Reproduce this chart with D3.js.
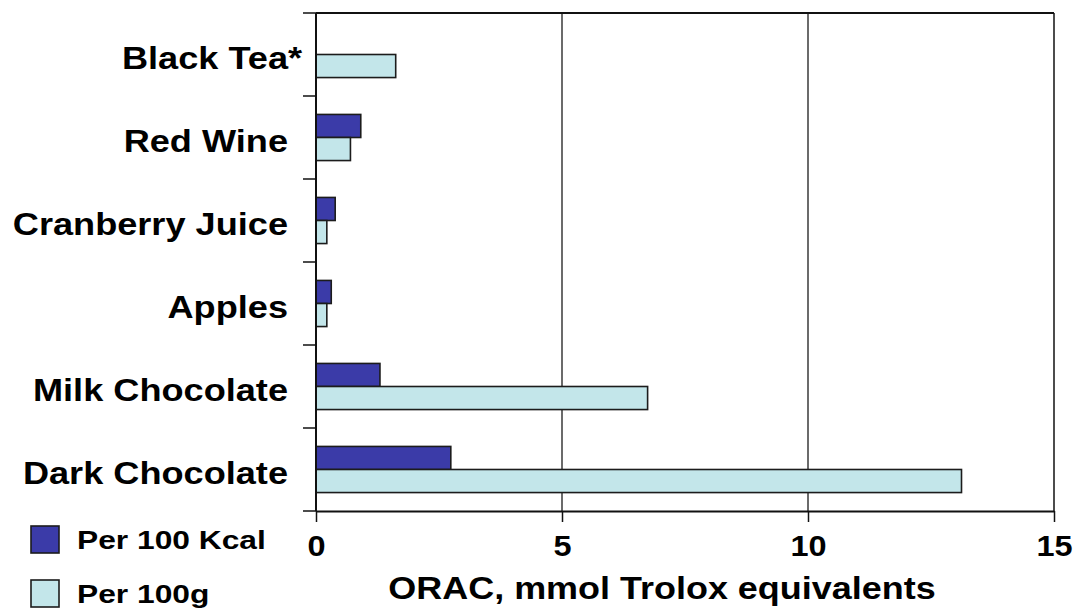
<!DOCTYPE html>
<html>
<head>
<meta charset="utf-8">
<script src="https://cdn.jsdelivr.net/npm/d3@7"></script>
<style>
  html, body { margin: 0; padding: 0; background: #ffffff; }
  svg { display: block; }
  text { font-family: "Liberation Sans", Arial, sans-serif; font-weight: bold; fill: #000; }
</style>
</head>
<body>
<svg id="chart" width="1076" height="612"></svg>
<script>
// ---- data ----
const categories = ["Black Tea*", "Red Wine", "Cranberry Juice", "Apples", "Milk Chocolate", "Dark Chocolate"];
const seriesNames = ["Per 100 Kcal", "Per 100g"];
const per100Kcal = [null, 0.91, 0.39, 0.31, 1.30, 2.74];
const per100g = [1.62, 0.70, 0.22, 0.22, 6.74, 13.12];
const xTicks = [0, 5, 10, 15];
const xTitle = "ORAC, mmol Trolox equivalents";
const seriesColors = ["#3b3ba8", "#c3e6ea"];

(function () {
// ---- layout ----
const svg = d3.select("#chart");
const pLeft = 316, pRight = 1054, pTop = 13, pBottom = 511;

const x = d3.scaleLinear().domain([0, 15]).range([pLeft, pRight]);
const y = d3.scaleBand().domain(categories).range([pTop, pBottom]).paddingInner(0).paddingOuter(0);
const ySub = d3.scaleBand().domain(seriesNames).range([0, y.bandwidth()]).paddingInner(0).paddingOuter(0.8);

const rows = categories.map((c, i) => ({
  cat: c,
  vals: [per100Kcal[i], per100g[i]]
}));

// gridlines
svg.append("g").selectAll("line")
  .data([5, 10]).join("line")
  .attr("x1", d => x(d)).attr("x2", d => x(d))
  .attr("y1", pTop).attr("y2", pBottom)
  .attr("stroke", "#3a3a3a").attr("stroke-width", 1.5);

// frame top and right
svg.append("line").attr("x1", pLeft).attr("x2", pRight).attr("y1", pTop).attr("y2", pTop)
  .attr("stroke", "#111").attr("stroke-width", 2);
svg.append("line").attr("x1", pRight).attr("x2", pRight).attr("y1", pTop).attr("y2", pBottom)
  .attr("stroke", "#111").attr("stroke-width", 1.5);

// bars
const groups = svg.append("g").selectAll("g")
  .data(rows).join("g")
  .attr("transform", d => `translate(0,${y(d.cat)})`);

groups.selectAll("rect")
  .data(d => d.vals.map((v, j) => ({ v, s: seriesNames[j], j })).filter(e => e.v != null))
  .join("rect")
  .attr("x", x(0))
  .attr("y", e => ySub(e.s))
  .attr("width", e => x(e.v) - x(0))
  .attr("height", ySub.bandwidth())
  .attr("fill", e => seriesColors[e.j])
  .attr("stroke", "#1c1c1c")
  .attr("stroke-width", 1.6);

// bottom axis
const xAxis = d3.axisBottom(x).tickValues(xTicks).tickFormat(d3.format("d"))
  .tickSize(11).tickPadding(13).tickSizeOuter(0);
const gx = svg.append("g").attr("transform", `translate(0,${pBottom})`).call(xAxis);
gx.select(".domain").attr("stroke", "#111").attr("stroke-width", 2);
gx.selectAll(".tick line").attr("stroke", "#111").attr("stroke-width", 1.5);
gx.selectAll(".tick text")
  .attr("font-size", 29)
  .attr("font-family", "Liberation Sans, Arial, sans-serif")
  .attr("font-weight", "bold")
  .attr("fill", "#000")
  .attr("transform", "scale(1.12,1)");

// left axis line + ticks at band boundaries
svg.append("line").attr("x1", pLeft).attr("x2", pLeft).attr("y1", pTop).attr("y2", pBottom)
  .attr("stroke", "#111").attr("stroke-width", 2);
const boundaries = categories.map(c => y(c)).concat([y.range()[1]]);
svg.append("g").selectAll("line")
  .data(boundaries).join("line")
  .attr("x1", pLeft - 13).attr("x2", pLeft)
  .attr("y1", d => d).attr("y2", d => d)
  .attr("stroke", "#111").attr("stroke-width", 1.5);

// category labels
const labelRight = 288;
const lab = svg.append("g").selectAll("g")
  .data(categories).join("g")
  .attr("transform", c => `translate(${labelRight},${y(c) + y.bandwidth() / 2 + 14.5}) scale(1.13,1)`);
lab.append("text")
  .attr("text-anchor", "end")
  .attr("font-size", 32)
  .text(c => c.replace(/\*$/, ""));
lab.filter(c => /\*$/.test(c)).append("text")
  .attr("text-anchor", "start")
  .attr("font-size", 32)
  .text("*");

// x title
svg.append("text")
  .attr("transform", `translate(662,599) scale(1.16,1)`)
  .attr("text-anchor", "middle")
  .attr("font-size", 31)
  .text(xTitle);

// legend
const legend = svg.append("g").selectAll("g")
  .data(seriesNames).join("g")
  .attr("transform", (d, i) => `translate(31,${526 + i * 54})`);
legend.append("rect")
  .attr("width", 28).attr("height", 27)
  .attr("fill", (d, i) => seriesColors[i])
  .attr("stroke", "#1c1c1c").attr("stroke-width", 1.6);
legend.append("text")
  .attr("transform", "translate(46,23) scale(1.27,1)")
  .attr("font-size", 25)
  .text(d => d);
})();
</script>
</body>
</html>
